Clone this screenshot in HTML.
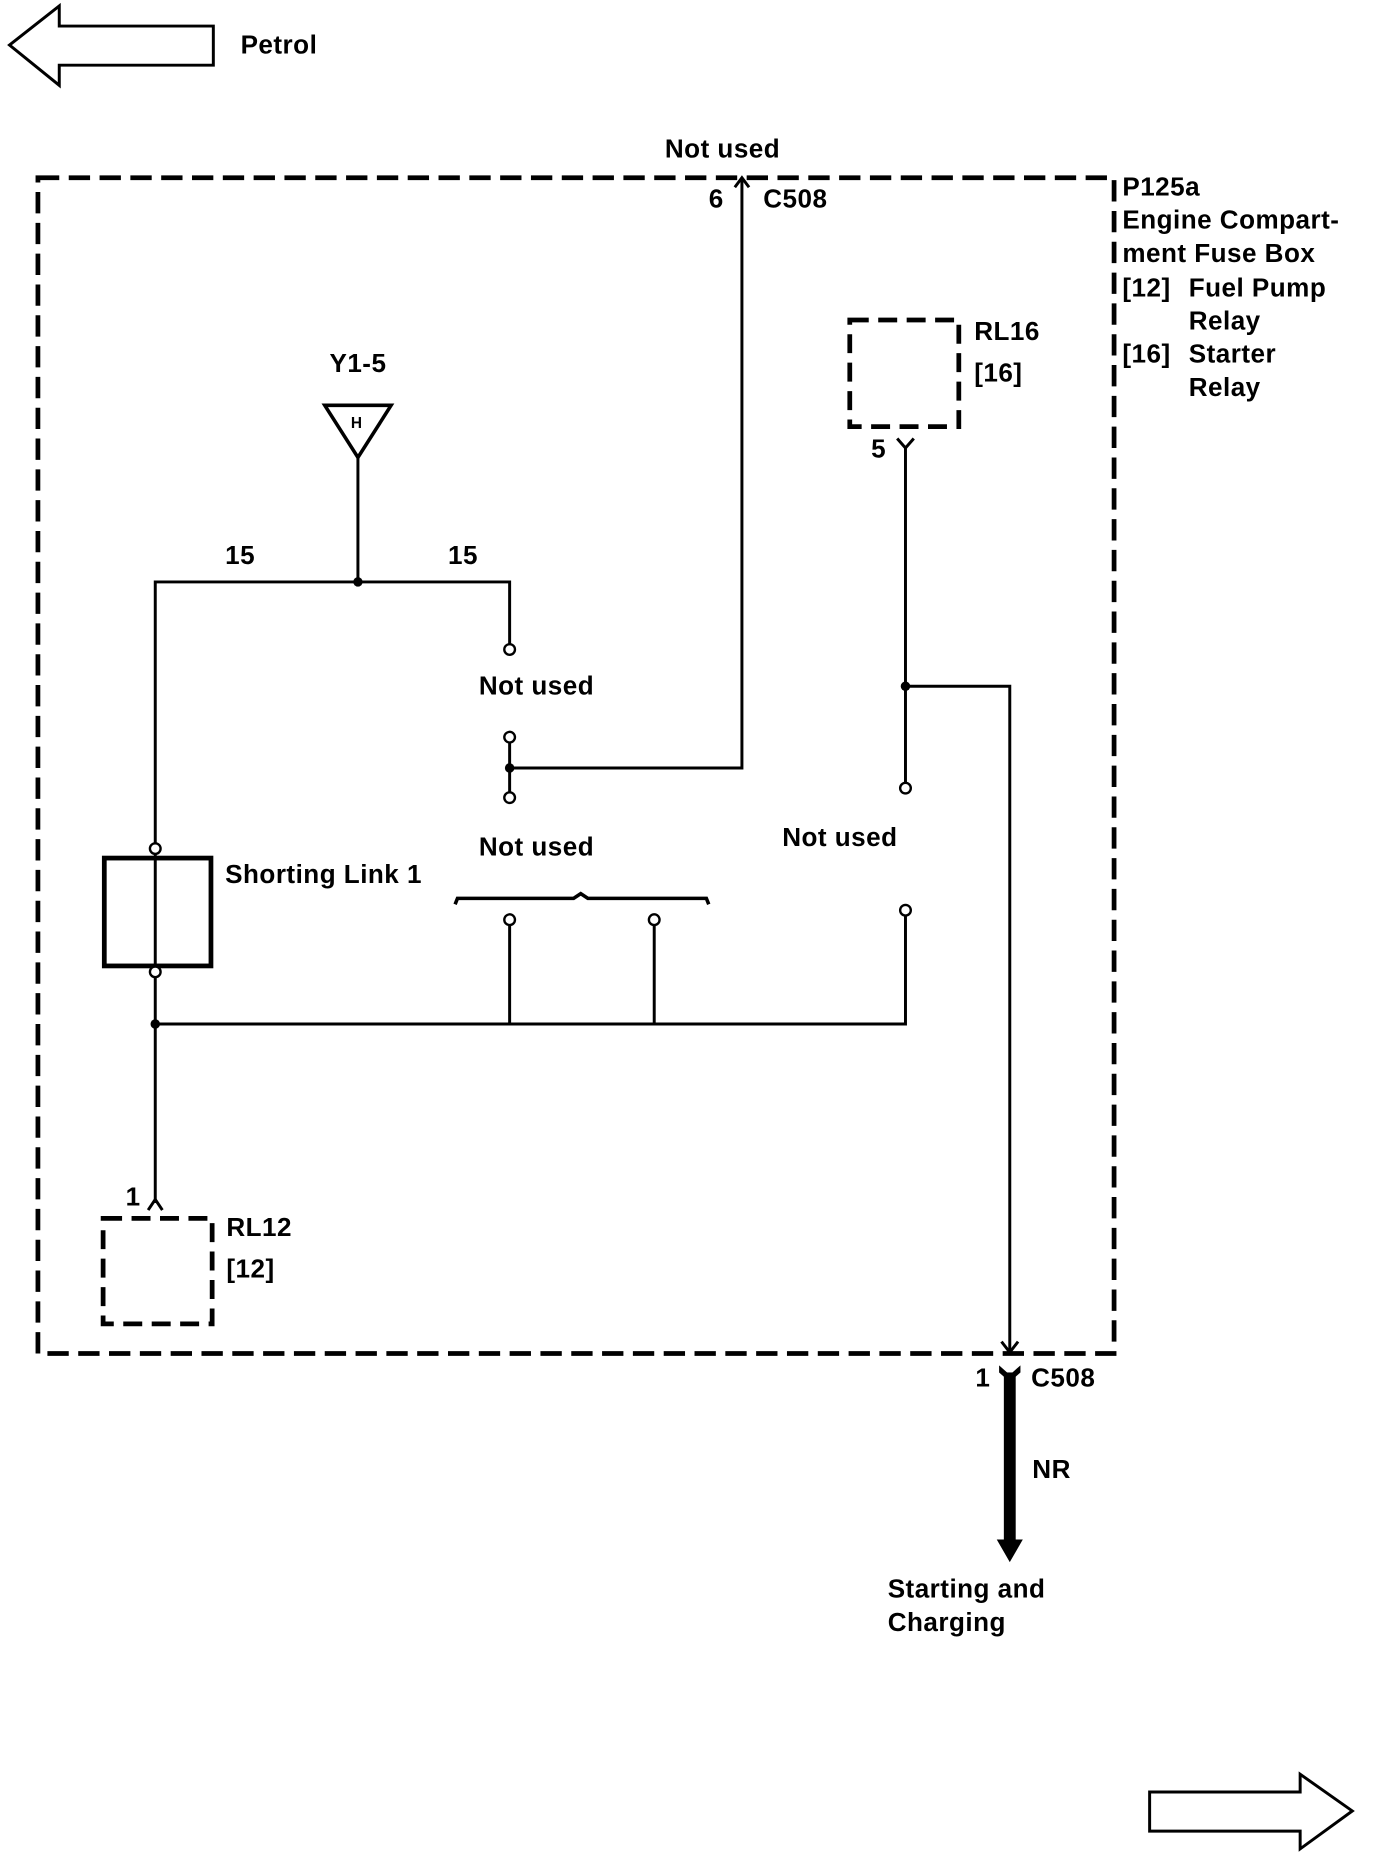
<!DOCTYPE html>
<html><head><meta charset="utf-8"><style>
html,body{margin:0;padding:0;background:#fff;width:1376px;height:1856px;overflow:hidden}
svg{display:block}
text{font-family:"Liberation Sans",sans-serif;font-weight:bold;font-size:22px;fill:#000;letter-spacing:0.4px}
</style></head><body>
<svg width="1376" height="1856" viewBox="0 0 1161 1566" preserveAspectRatio="none" xmlns="http://www.w3.org/2000/svg">
<g fill="none" stroke="#000" stroke-width="2.5">
<!-- Petrol arrow -->
<polygon points="8,38 50,5 50,22 180,22 180,55 50,55 50,72"/>
<!-- right arrow -->
<polygon points="970,1512 1097,1512 1097,1497 1141,1528 1097,1560 1097,1545 970,1545"/>
<!-- frame -->
<rect x="32" y="150" width="908" height="992" stroke-width="4" stroke-dasharray="18,8"/>
<rect x="717" y="270" width="92" height="90" stroke-width="4" stroke-dasharray="16,8"/>
<rect x="87" y="1028" width="92" height="89" stroke-width="4" stroke-dasharray="16,8"/>
<!-- C508 pin 6 -->
<polyline points="430,648 626,648 626,150"/>
<polyline points="620,158 626,150 632,158"/>
<!-- Y1-5 -->
<polygon points="274,342 330,342 302,386" stroke-width="3"/>
<line x1="302" y1="386" x2="302" y2="491"/>
<polyline points="131,712 131,491 430,491 430,543"/>
<line x1="430" y1="627" x2="430" y2="668"/>
<!-- shorting link -->
<rect x="88" y="724" width="90" height="91" stroke-width="4"/>
<line x1="131" y1="720" x2="131" y2="816"/>
<line x1="131" y1="825" x2="131" y2="1015"/>
<polyline points="125,1021 131,1012 137,1021"/>
<polyline points="131,864 764,864 764,773"/>
<line x1="430" y1="781" x2="430" y2="864"/>
<line x1="552" y1="781" x2="552" y2="864"/>
<!-- bracket -->
<polyline points="384,763 386,758 484,758 490,754 496,758 596,758 598,763" stroke-width="3"/>
<!-- RL16 -->
<polyline points="757,370 764,378 771,370"/>
<line x1="764" y1="376" x2="764" y2="660"/>
<polyline points="764,579 852,579 852,1140"/>
<polyline points="845,1132 852,1141 859,1132"/>
<!-- circles -->
<g fill="#fff" stroke-width="2">
<circle cx="430" cy="548" r="4.5"/><circle cx="430" cy="622" r="4.5"/><circle cx="430" cy="673" r="4.5"/>
<circle cx="131" cy="716" r="4.5"/><circle cx="131" cy="820" r="4.5"/>
<circle cx="430" cy="776" r="4.5"/><circle cx="552" cy="776" r="4.5"/>
<circle cx="764" cy="768" r="4.5"/><circle cx="764" cy="665" r="4.5"/>
</g>
</g>
<!-- dots -->
<g fill="#000">
<circle cx="302" cy="491" r="4"/><circle cx="430" cy="648" r="4"/><circle cx="131" cy="864" r="4"/><circle cx="764" cy="579" r="4"/>
<!-- NR thick -->
<rect x="847" y="1158" width="10" height="142"/>
<polygon points="841,1299 863,1299 852,1318"/>
<polygon points="843,1152 852,1160 861,1152 861,1158 852,1166 843,1158"/>
</g>
<text x="203" y="45">Petrol</text>
<text x="561" y="133">Not used</text>
<text x="598" y="175">6</text>
<text x="644" y="175">C508</text>
<text x="947" y="165">P125a</text>
<text x="947" y="193">Engine Compart-</text>
<text x="947" y="221">ment Fuse Box</text>
<text x="947" y="250">[12]</text><text x="1003" y="250">Fuel Pump</text>
<text x="1003" y="278">Relay</text>
<text x="947" y="306">[16]</text><text x="1003" y="306">Starter</text>
<text x="1003" y="334">Relay</text>
<text x="822" y="287">RL16</text>
<text x="822" y="322">[16]</text>
<text x="735" y="386">5</text>
<text x="278" y="314">Y1-5</text>
<text x="296" y="361" style="font-size:13px">H</text>
<text x="190" y="476">15</text>
<text x="378" y="476">15</text>
<text x="404" y="586">Not used</text>
<text x="190" y="745">Shorting Link 1</text>
<text x="404" y="722">Not used</text>
<text x="660" y="714">Not used</text>
<text x="106" y="1017">1</text>
<text x="191" y="1043">RL12</text>
<text x="191" y="1078">[12]</text>
<text x="823" y="1170">1</text>
<text x="870" y="1170">C508</text>
<text x="871" y="1247">NR</text>
<text x="749" y="1348">Starting and</text>
<text x="749" y="1376">Charging</text>
</svg>
</body></html>
